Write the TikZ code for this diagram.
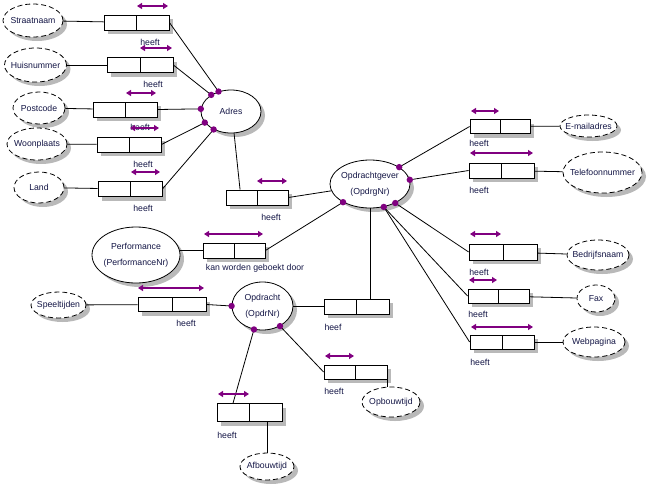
\documentclass[tikz,border=0pt]{standalone}
\usepackage{fontspec}
\setmainfont{Liberation Sans}
\usepackage{tikz}
\usetikzlibrary{arrows.meta, positioning, calc, shadows, shapes.geometric}
\definecolor{ormpurple}{RGB}{128,0,128}
\definecolor{ormtext}{RGB}{20,22,70}
\definecolor{ormshadow}{RGB}{185,185,185}

% text that does not widen the ellipse
\newcommand{\inell}[1]{\makebox[0pt]{#1}}
\newcommand{\inelltwo}[2]{\makebox[0pt]{\begin{tabular}{@{}c@{}}#1\\[6pt]#2\end{tabular}}}

\tikzset{
  ormshade/.style={drop shadow={shadow xshift=4pt, shadow yshift=-4pt, fill=ormshadow, opacity=1}},
  entity/.style={ellipse, draw, fill=white, inner sep=0pt, text=ormtext, ormshade},
  valuetype/.style={entity, dash pattern=on 5pt off 3pt},
  rolebox/.style={rectangle, draw, fill=white, inner sep=0pt, minimum height=15pt, ormshade,
    path picture={\draw (path picture bounding box.north) -- (path picture bounding box.south);}},
  rolelabel/.style={text=ormtext, inner sep=0pt},
  uniq/.style={ormpurple, line width=1.2pt, {Triangle[length=5pt,width=6pt]}-{Triangle[length=5pt,width=6pt]}},
  roledot/.style={fill=ormpurple}
}

\begin{document}
\begin{tikzpicture}[x=1pt, y=-1pt, line width=0.8pt, font=\fontsize{8.7}{10}\selectfont]
        \useasboundingbox (0,0) rectangle (648,488);

        % Entities
        \node[entity, minimum width=60pt, minimum height=43pt] (adres) at (231,111.5) {\inell{Adres}};
        \node[entity, minimum width=80pt, minimum height=48pt] (opdrachtgever) at (370,184) {\inelltwo{Opdrachtgever}{(OpdrgNr)}};
        \node[entity, minimum width=88pt, minimum height=56pt] (performance) at (136,255) {\inelltwo{Performance}{(PerformanceNr)}};
        \node[entity, minimum width=61pt, minimum height=48pt] (opdracht) at (262.5,306) {\inelltwo{Opdracht}{(OpdrNr)}};

        % Value types
        \node[valuetype, minimum width=60pt, minimum height=33pt] (straatnaam) at (33,20.5) {\inell{Straatnaam}};
        \node[valuetype, minimum width=62pt, minimum height=34pt] (huisnummer) at (35.5,65) {\inell{Huisnummer}};
        \node[valuetype, minimum width=52pt, minimum height=32pt] (postcode) at (39,108) {\inell{Postcode}};
        \node[valuetype, minimum width=60pt, minimum height=32pt] (woonplaats) at (37,144) {\inell{Woonplaats}};
        \node[valuetype, minimum width=50pt, minimum height=31pt] (land) at (39,187.5) {\inell{Land}};
        \node[valuetype, minimum width=57pt, minimum height=22pt] (email) at (588.5,126) {\inell{E-mailadres}};
        \node[valuetype, minimum width=79pt, minimum height=41pt] (telefoon) at (602.5,172.5) {\inell{Telefoonnummer}};
        \node[valuetype, minimum width=62pt, minimum height=30pt] (bedrijfsnaam) at (598,255) {\inell{Bedrijfsnaam}};
        \node[valuetype, minimum width=38pt, minimum height=27pt] (fax) at (596,298.5) {\inell{Fax}};
        \node[valuetype, minimum width=62pt, minimum height=30pt] (webpagina) at (594,342) {\inell{Webpagina}};
        \node[valuetype, minimum width=55pt, minimum height=26pt] (speeltijden) at (58.5,305) {\inell{Speeltijden}};
        \node[valuetype, minimum width=58pt, minimum height=30pt] (opbouwtijd) at (391,402) {\inell{Opbouwtijd}};
        \node[valuetype, minimum width=54pt, minimum height=27pt] (afbouwtijd) at (267,466.5) {\inell{Afbouwtijd}};

        % Fact type boxes
        \node[rolebox, minimum width=65pt] (straatbox) at (136.5,22.5) {};
        \node[rolebox, minimum width=66pt] (huisbox) at (140,65) {};
        \node[rolebox, minimum width=64pt] (postbox) at (125,109.5) {};
        \node[rolebox, minimum width=64pt] (woonbox) at (129,144.5) {};
        \node[rolebox, minimum width=64pt] (landbox) at (130,189) {};
        \node[rolebox, minimum width=62pt] (adresbox) at (257,197.5) {};
        \node[rolebox, minimum width=60pt, minimum height=14pt] (mailbox) at (500,126.5) {};
        \node[rolebox, minimum width=65pt] (telbox) at (501.5,170.5) {};
        \node[rolebox, minimum width=68pt, minimum height=16pt] (bedrbox) at (503,252) {};
        \node[rolebox, minimum width=61pt, minimum height=14pt] (faxbox) at (498.5,296) {};
        \node[rolebox, minimum width=64pt, minimum height=14pt] (webbox) at (502,342) {};
        \node[rolebox, minimum width=62pt] (perfbox) at (234,250.5) {};
        \node[rolebox, minimum width=68pt, minimum height=14pt] (speelbox) at (172,304.5) {};
        \node[rolebox, minimum width=65pt] (heefbox) at (356.5,306.5) {};
        \node[rolebox, minimum width=63pt, minimum height=14pt] (opbouwbox) at (355.5,372) {};
        \node[rolebox, minimum width=65pt, minimum height=18pt] (afbouwbox) at (249.5,412.5) {};

        % Reading labels
        \node[rolelabel] (lstraat) at (150,42) {heeft};
        \node[rolelabel] (lhuis) at (153,84) {heeft};
        \node[rolelabel] (lpost) at (140,127) {heeft};
        \node[rolelabel] (lwoon) at (143,164) {heeft};
        \node[rolelabel] (lland) at (143,208) {heeft};
        \node[rolelabel] (ladres) at (271,217) {heeft};
        \node[rolelabel] (lmail) at (479,143) {heeft};
        \node[rolelabel] (ltel) at (479,190) {heeft};
        \node[rolelabel] (lbedr) at (479,272) {heeft};
        \node[rolelabel] (lfax) at (478,314) {heeft};
        \node[rolelabel] (lweb) at (480,362) {heeft};
        \node[rolelabel] (lperf) at (255,268) {kan worden geboekt door};
        \node[rolelabel] (lspeel) at (186,323) {heeft};
        \node[rolelabel] (lheef) at (333,327) {heef};
        \node[rolelabel] (lopbouw) at (334,391) {heeft};
        \node[rolelabel] (lafbouw) at (227,435) {heeft};

        % Adres connectors
        \draw (straatnaam) -- (straatbox);
        \draw (huisnummer) -- (huisbox);
        \draw (postcode) -- (postbox);
        \draw (woonplaats) -- (woonbox);
        \draw (land) -- (landbox);
        \draw (straatbox.east) -- (adres.122);
        \draw (huisbox.east) -- (adres.140);
        \draw (postbox.east) -- (adres.175);
        \draw (woonbox.east) -- (adres.203);
        \draw (landbox.east) -- (adres.226);
        \draw (adres.-82) -- ($(adresbox.north west)!0.23!(adresbox.north east)$);
        \draw (adresbox.east) -- (opdrachtgever.190);

        % Opdrachtgever connectors
        \draw (opdrachtgever.30) -- (mailbox.west);
        \draw (opdrachtgever.6) -- (telbox.west);
        \draw (opdrachtgever.-37) -- (bedrbox.west);
        \draw (opdrachtgever.-59) -- (faxbox.west);
        \draw (opdrachtgever.-59) -- (webbox.west);
        \draw (mailbox) -- (email);
        \draw (telbox) -- (telefoon);
        \draw (bedrbox) -- (bedrijfsnaam);
        \draw (faxbox) -- (fax);
        \draw (webbox) -- (webpagina);
        \draw (opdrachtgever.south) -- (opdrachtgever.south |- heefbox.north);

        % Performance and Opdracht connectors
        \draw (perfbox.west) -- (perfbox.west -| performance.east);
        \draw (perfbox.east) -- (opdrachtgever.214);
        \draw (speeltijden) -- (speelbox);
        \draw (speelbox.east) -- (opdracht.west);
        \draw (opdracht.east) -- (opdracht.east -| heefbox.west);
        \draw (opdracht.-49) -- (opbouwbox.west);
        \draw (opbouwbox.south east) -- (opbouwbox.south east |- opbouwtijd.north);
        \draw (opdracht.-110) -- ($(afbouwbox.north west)!0.25!(afbouwbox.north east)$);
        \draw (afbouwtijd.north) -- (afbouwtijd.north |- afbouwbox.south);

        % Role dots
        \foreach \a in {122, 140, 175, 203, 226}
            \fill[roledot] (adres.\a) circle (3.2pt);
        \foreach \a in {30, 6, 214, -37, -59}
            \fill[roledot] (opdrachtgever.\a) circle (3.2pt);
        \foreach \a in {180, -110, -49}
            \fill[roledot] (opdracht.\a) circle (3.2pt);

        % Uniqueness arrows
        \draw[uniq] (137,6) -- (168,6);
        \draw[uniq] (140,48) -- (172,48);
        \draw[uniq] (126,93) -- (156,93);
        \draw[uniq] (130,128) -- (159,128);
        \draw[uniq] (131,172) -- (160,172);
        \draw[uniq] (257,181) -- (287,181);
        \draw[uniq] (471,111) -- (499,111);
        \draw[uniq] (470,153) -- (533,153);
        \draw[uniq] (470,234) -- (501,234);
        \draw[uniq] (469,280) -- (497,280);
        \draw[uniq] (471,327) -- (533,327);
        \draw[uniq] (204,234) -- (263,234);
        \draw[uniq] (138,288) -- (204,288);
        \draw[uniq] (325,356) -- (354,356);
        \draw[uniq] (218,394) -- (249,394);
\end{tikzpicture}
\end{document}
